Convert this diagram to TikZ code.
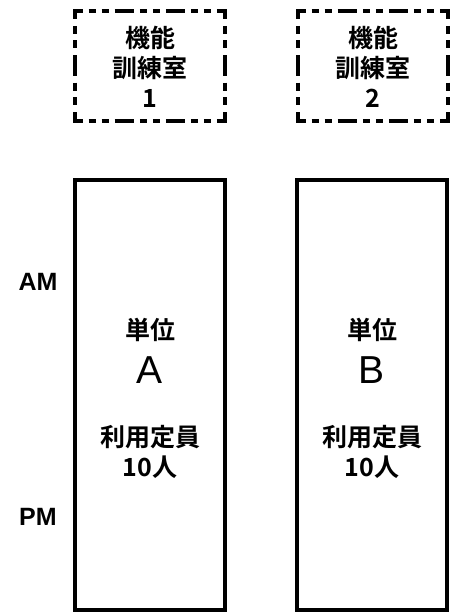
\documentclass[tikz,border=0pt]{standalone}
\usepackage{fontspec}
\setmainfont{Liberation Sans}
\newfontfamily\cjk{Noto Sans CJK JP}[BoldFont={* Bold}]
\begin{document}
\begin{tikzpicture}[x=1pt,y=-1pt,
  roombox/.style={minimum width=150pt,minimum height=110pt,inner sep=0pt},
  roomline/.style={draw=black,line width=3.5pt,shorten <=-1.75pt,shorten >=-1.75pt},
  hside/.style={roomline,dash pattern=on 19.17pt off 6pt on 7pt off 6pt on 7pt off 6pt,dash phase=9.58pt},
  vside/.style={roomline,dash pattern=on 20.75pt off 6.5pt on 8pt off 6.5pt on 8pt off 7pt,dash phase=10.37pt},
  unitbox/.style={draw=black,line width=4.5pt,minimum width=150pt,minimum height=430pt,inner sep=0pt},
  jtext/.style={font=\cjk\bfseries\fontsize{25}{30}\selectfont,align=center,inner sep=0pt},
  bigletter/.style={font=\fontsize{39}{39}\selectfont,inner sep=0pt},
  timelabel/.style={font=\bfseries\fontsize{25}{25}\selectfont,inner sep=0pt}]
\useasboundingbox (0,0) rectangle (457,613);
\node[roombox] (r1) at (150,66) {};
\node[roombox] (r2) at (373,66) {};
\foreach \r in {r1,r2}{
  \draw[hside] (\r.north west) -- (\r.north east);
  \draw[hside] (\r.south west) -- (\r.south east);
  \draw[vside] (\r.north west) -- (\r.south west);
  \draw[vside] (\r.north east) -- (\r.south east);
}
\node[jtext] (t1) at (150,67) {機能\\訓練室\\1};
\node[jtext] (t2) at (373,67) {機能\\訓練室\\2};
\node[unitbox] (ua) at (150,395) {};
\node[unitbox] (ub) at (372,395) {};
\node[jtext] (a1) at (150,330) {単位};
\node[bigletter] (a2) at (150,370) {A};
\node[jtext] (a3) at (150,452) {利用定員\\10人};
\node[jtext] (b1) at (372,330) {単位};
\node[bigletter] (b2) at (372,370) {B};
\node[jtext] (b3) at (372,452) {利用定員\\10人};
\node[timelabel] (am) at (38,282) {AM};
\node[timelabel] (pm) at (38,517) {PM};
\end{tikzpicture}
\end{document}
